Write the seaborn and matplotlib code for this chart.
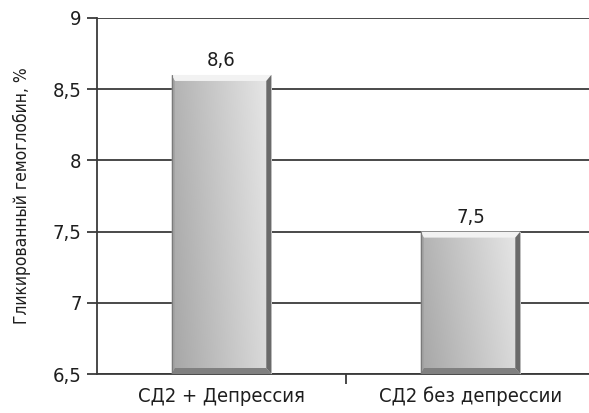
import numpy as np
import pandas as pd
import matplotlib
matplotlib.use("Agg")
import matplotlib.pyplot as plt
from matplotlib.patches import Polygon
import seaborn as sns

categories = ["СД2 + Депрессия", "СД2 без депрессии"]
values = [8.6, 7.5]
value_labels = ["8,6", "7,5"]
y_ticks = [6.5, 7, 7.5, 8, 8.5, 9]
y_tick_labels = ["6,5", "7", "7,5", "8", "8,5", "9"]
y_label = "Гликированный гемоглобин, %"

sns.set_style("white")
plt.rcParams["font.family"] = ["DejaVu Sans"]
plt.rcParams["font.stretch"] = "condensed"

df = pd.DataFrame({"group": categories, "value": values})

fig = plt.figure(figsize=(5.89, 4.13), dpi=100)
ax = fig.add_axes([97 / 589, 39 / 413, 498 / 589, 356 / 413])

sns.barplot(data=df, x="group", y="value", ax=ax, width=0.4,
            color="#c0c0c0", linewidth=0, zorder=3)
ax.set_ylim(6.5, 9)
ax.set_xlim(-0.5, 1.5)

txt_color = "#1e1e1e"
ax.set_yticks(y_ticks)
ax.set_yticklabels(y_tick_labels, fontsize=14.5, color=txt_color)
ax.yaxis.grid(True, color="#3a3a3a", linewidth=1.3, zorder=0)
ax.set_axisbelow(True)
ax.tick_params(axis="y", which="both", left=True, length=7, width=1.3,
               color="#3a3a3a", pad=4)
ax.set_xticks([0, 1])
ax.set_xticklabels(categories, fontsize=14.5, color=txt_color)
ax.tick_params(axis="x", length=0, pad=9)
ax.set_xticks([0.5], minor=True)
ax.tick_params(axis="x", which="minor", bottom=True, length=7, width=1.3,
               color="#3a3a3a")
ax.set_xlabel("")
ax.set_ylabel(y_label, fontsize=12.5, labelpad=16, color=txt_color)

for side in ["top", "right"]:
    ax.spines[side].set_visible(False)
for side in ["left", "bottom"]:
    ax.spines[side].set_color("#3a3a3a")
    ax.spines[side].set_linewidth(1.3)

# pixel -> data conversion for bevel widths
px_x = 1 / 249.0
px_y = 2.5 / 356.0

# horizontal + slight vertical shading inside each bar
gx = np.linspace(0, 1, 200)
gy = np.linspace(0, 1, 200)
GX, GY = np.meshgrid(gx, gy)
shade = 0.65 + 0.21 * GX + 0.05 * GY
shade = np.clip(shade, 0, 1)

for patch, val, lab in zip(ax.patches, values, value_labels):
    x0 = patch.get_x()
    w = patch.get_width()
    y0 = 6.5
    y1 = val
    patch.set_facecolor("none")
    img = ax.imshow(shade, cmap="gray", vmin=0, vmax=1, origin="lower",
                    extent=[x0, x0 + w, y0, y1], aspect="auto", zorder=3,
                    interpolation="bilinear")
    img.set_clip_path(patch)
    bx = 5 * px_x
    by = 6 * px_y
    lx = 3 * px_x
    # top bevel (light)
    ax.add_patch(Polygon([[x0, y1], [x0 + w, y1], [x0 + w - bx, y1 - by],
                          [x0 + lx, y1 - by]], closed=True,
                         facecolor="#f2f2f2", edgecolor="none", zorder=4))
    # right bevel (dark)
    ax.add_patch(Polygon([[x0 + w, y1], [x0 + w, y0], [x0 + w - bx, y0 + by],
                          [x0 + w - bx, y1 - by]], closed=True,
                         facecolor="#6a6a6a", edgecolor="none", zorder=4))
    # bottom bevel (dark)
    ax.add_patch(Polygon([[x0, y0], [x0 + w, y0], [x0 + w - bx, y0 + by],
                          [x0 + lx, y0 + by]], closed=True,
                         facecolor="#808080", edgecolor="none", zorder=4))
    # left bevel (thin)
    ax.add_patch(Polygon([[x0, y0], [x0, y1], [x0 + lx, y1 - by],
                          [x0 + lx, y0 + by]], closed=True,
                         facecolor="#a0a0a0", edgecolor="none", zorder=4))
    ax.plot([x0, x0], [y0, y1], color="#7a7a7a", lw=0.8, zorder=5)
    ax.text(x0 + w / 2, y1 + 5 * px_y, lab, ha="center", va="bottom",
            fontsize=14.5, color=txt_color)

fig.savefig("out.png", dpi=100)
